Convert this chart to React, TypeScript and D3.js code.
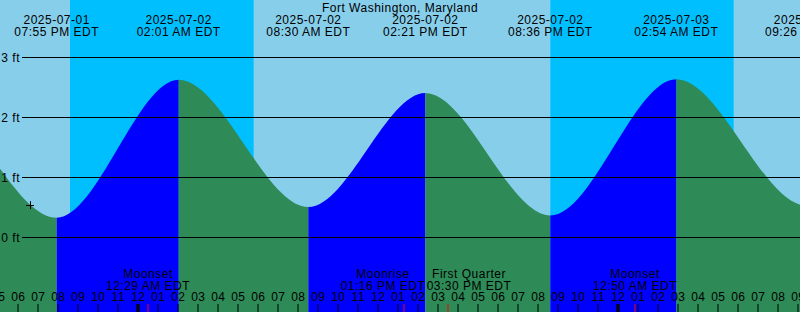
import React from "react";
import * as d3 from "d3";

const W = 800;
const H = 312;

const title = "Fort Washington, Maryland";

// Tide extremes (local time, EDT) and heights in feet
const tideTimes = [
  "2025-07-01 07:45",
  "2025-07-01 13:30",
  "2025-07-01 19:55",
  "2025-07-02 02:01",
  "2025-07-02 08:30",
  "2025-07-02 14:21",
  "2025-07-02 20:36",
  "2025-07-03 02:54",
  "2025-07-03 09:26",
  "2025-07-03 15:40",
];
const tideLevels = [0.5, 2.3, 0.32, 2.62, 0.5, 2.4, 0.36, 2.63, 0.52, 2.4];

// Night periods (sunset -> sunrise)
const nightStarts = ["2025-07-01 20:35", "2025-07-02 20:36"];
const nightEnds = ["2025-07-02 05:46", "2025-07-03 05:46"];

// Moon events
const moonTimes = ["2025-07-02 00:29", "2025-07-02 13:16", "2025-07-02 15:30", "2025-07-03 00:50"];
const moonLabels = ["Moonset", "Moonrise", "First Quarter", "Moonset"];

// Y axis ticks (ft)
const yTicks = [0, 1, 2, 3];

// Marker
const markerTime = "2025-07-01 18:35";
const markerLevel = 0.53;

const viewStart = "2025-07-01 17:05";
const viewEnd = "2025-07-03 09:05";

const parse = d3.timeParse("%Y-%m-%d %H:%M");
const fmtDate = d3.timeFormat("%Y-%m-%d");
const fmtTime = d3.timeFormat("%I:%M %p");
const fmtHour = d3.timeFormat("%I");

const FONT = "'Liberation Sans', Arial, Helvetica, sans-serif";
const LABEL_GAP = 86;

export default function App() {
  const t0 = parse(viewStart)!;
  const t1 = parse(viewEnd)!;
  const x = d3.scaleTime().domain([t0, t1]).range([0, W]);
  const y = d3.scaleLinear().domain([0, 3]).range([237, 57]);

  const tide = tideTimes.map((s, i) => ({ t: parse(s)!, v: tideLevels[i] }));
  const area = d3
    .area<{ t: Date; v: number }>()
    .x((d) => x(d.t))
    .y0(H)
    .y1((d) => y(d.v))
    .curve(d3.curveMonotoneX);
  const areaPath = area(tide) || "";

  const segments = tide.slice(0, -1).map((d, i) => ({
    x0: x(d.t),
    x1: x(tide[i + 1].t),
    flood: tide[i + 1].v > d.v,
  }));

  const hours = d3.timeHour.range(d3.timeHour.offset(t0, -1), d3.timeHour.offset(t1, 1));

  // moon label positions, pushed apart when too close
  const moonX = moonTimes.map((s) => x(parse(s)!));
  const moonLabelX = moonX.slice();
  for (let i = 1; i < moonLabelX.length; i++) {
    const d = moonLabelX[i] - moonLabelX[i - 1];
    if (d < LABEL_GAP) {
      const shift = (LABEL_GAP - d) / 2;
      moonLabelX[i - 1] -= shift;
      moonLabelX[i] += shift;
    }
  }

  const textStyle = { fontFamily: FONT, fontSize: 12, letterSpacing: 0.5, fill: "#000" } as const;

  return (
    <svg
      width={W}
      height={H}
      style={{ position: "absolute", left: 0, top: 0, display: "block" }}
    >
      <defs>
        {segments.map((s, i) => (
          <clipPath id={`seg${i}`} key={i}>
            <rect x={s.x0} y={0} width={s.x1 - s.x0} height={H} />
          </clipPath>
        ))}
      </defs>
      <rect x={0} y={0} width={W} height={H} fill="#87ceeb" />
      {nightStarts.map((s, i) => {
        const a = x(parse(s)!);
        const b = x(parse(nightEnds[i])!);
        return <rect key={i} x={a} y={0} width={b - a} height={H} fill="#00bfff" />;
      })}
      {segments.map((s, i) => (
        <path
          key={i}
          d={areaPath}
          fill={s.flood ? "#0000ff" : "#2e8b57"}
          clipPath={`url(#seg${i})`}
        />
      ))}
      {yTicks.map((v) => (
        <g key={v}>
          <line x1={22} x2={W} y1={y(v) + 0.5} y2={y(v) + 0.5} stroke="#000" strokeWidth={1} />
          <text x={20} y={y(v) + 4.5} textAnchor="end" {...textStyle}>
            {`${v} ft`}
          </text>
        </g>
      ))}
      <text x={W / 2} y={12} textAnchor="middle" {...textStyle}>
        {title}
      </text>
      {tide
        .filter((d) => x(d.t) > -20 && x(d.t) < W + 40)
        .map((d, i) => (
          <g key={i}>
            <text x={x(d.t)} y={24} textAnchor="middle" {...textStyle}>
              {fmtDate(d.t)}
            </text>
            <text x={x(d.t)} y={35.5} textAnchor="middle" {...textStyle}>
              {`${fmtTime(d.t)} EDT`}
            </text>
          </g>
        ))}
      {moonTimes.map((s, i) => {
        const t = parse(s)!;
        return (
          <g key={i}>
            <text x={moonLabelX[i]} y={278} textAnchor="middle" {...textStyle}>
              {moonLabels[i]}
            </text>
            <text x={moonLabelX[i]} y={289.5} textAnchor="middle" {...textStyle}>
              {`${fmtTime(t)} EDT`}
            </text>
          </g>
        );
      })}
      {hours.map((h, i) => {
        const hx = x(h);
        const midnight = h.getHours() === 0;
        return (
          <g key={i}>
            <text x={hx} y={301} textAnchor="middle" {...textStyle}>
              {fmtHour(h)}
            </text>
            <rect
              x={midnight ? Math.round(hx) - 1.5 : Math.round(hx) - 0.5}
              y={304}
              width={midnight ? 3 : 1}
              height={8}
              fill="#000"
            />
          </g>
        );
      })}
      {moonX.map((mx, i) => (
        <rect key={i} x={Math.round(mx) - 0.5} y={304} width={1} height={8} fill="#ff0000" />
      ))}
      <g stroke="#000" strokeWidth={1}>
        <line
          x1={x(parse(markerTime)!) - 4}
          x2={x(parse(markerTime)!) + 4}
          y1={Math.round(y(markerLevel)) + 0.5}
          y2={Math.round(y(markerLevel)) + 0.5}
        />
        <line
          x1={Math.round(x(parse(markerTime)!)) + 0.5}
          x2={Math.round(x(parse(markerTime)!)) + 0.5}
          y1={y(markerLevel) - 4}
          y2={y(markerLevel) + 4}
        />
      </g>
    </svg>
  );
}
